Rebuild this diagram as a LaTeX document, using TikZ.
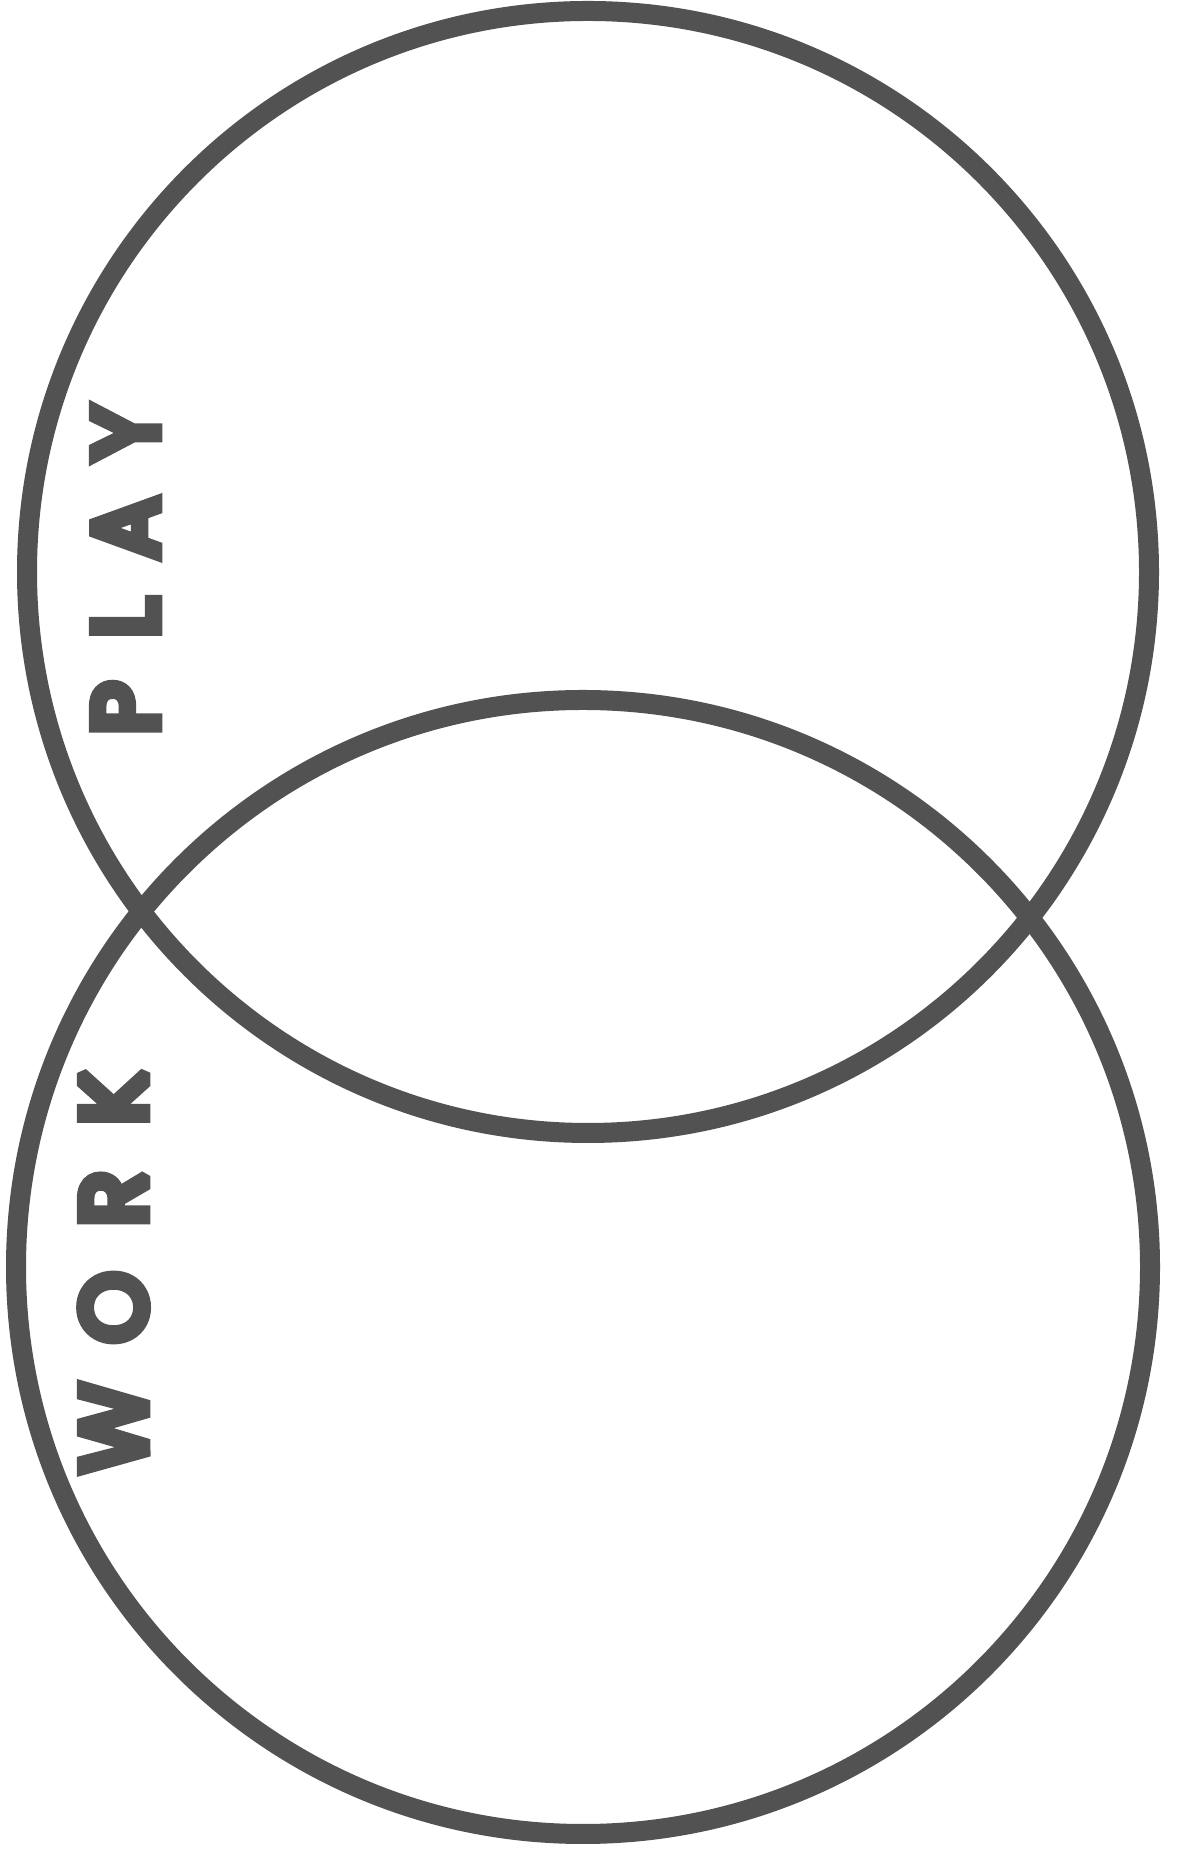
\documentclass[tikz,border=0pt]{standalone}
\usepackage{fontspec}
\setmainfont{Poppins}
\newfontfamily\heavyfont{Poppins}[FakeBold=12]
\definecolor{ink}{RGB}{82,82,82}
\begin{document}
\begin{tikzpicture}[x=1pt,y=1pt,
  ring/.style={draw=ink,line width=20pt},
  letter/.style={rotate=90,anchor=base,inner sep=0pt,text=ink,font=\heavyfont\fontsize{90}{100}\selectfont}]
\useasboundingbox (0,0) rectangle (1176,1849);
\fill[white] (0,0) rectangle (1176,1849);
% top circle (PLAY)
\node[ring,circle,minimum size=1122pt,inner sep=0pt] (play) at (588,1277) {};
% bottom circle (WORK)
\node[ring,circle,minimum size=1134pt,inner sep=0pt] (work) at (583,582) {};
\begin{scope}[line join=miter,miter limit=2]
% PLAY letters
\node[letter] (p1) at (157,1849-708) {P};
\node[letter] (p2) at (157,1849-618) {L};
\node[letter] (p3) at (157,1849-528) {A};
\node[letter] (p4) at (157,1849-433) {Y};
% WORK letters
\node[letter] (w1) at (145,1849-1428) {W};
\node[letter] (w2) at (145,1849-1307.5) {O};
\node[letter] (w3) at (145,1849-1198.5) {R};
\node[letter] (w4) at (145,1849-1097.5) {K};
\end{scope}
\end{tikzpicture}
\end{document}
